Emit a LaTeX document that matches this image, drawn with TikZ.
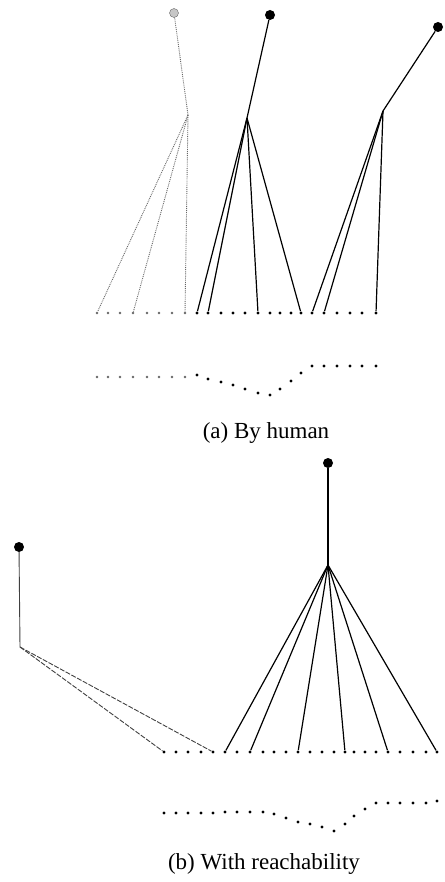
\documentclass[tikz,border=0pt]{standalone}
\usepackage{fontspec}
\setmainfont{Liberation Serif}
\usepackage{tikz}
\usetikzlibrary{calc}

\begin{document}
\begin{tikzpicture}[x=1pt, y=-1pt,
    leaf/.style={circle, fill=black, inner sep=0pt, minimum size=3.4pt},
    leafg/.style={circle, fill=black!60, inner sep=0pt, minimum size=2.6pt},
    root/.style={circle, fill=black, inner sep=0pt, minimum size=10pt},
    rootg/.style={circle, fill=gray!45, draw=black!60, inner sep=0pt, minimum size=9pt},
    edge/.style={black, line width=1.2pt},
    edgeg/.style={black!60, line width=0.9pt, densely dotted},
    edged/.style={black!75, line width=0.9pt, dash pattern=on 5pt off 1.5pt},
    caption/.style={font=\fontsize{23}{27}\selectfont}]
    \useasboundingbox (0,0) rectangle (444,882);

    % (a) leaves
    \foreach \x [count=\i from 0] in {97,108,120,133,147,159,172,185}
        \node[leafg] (a\i) at (\x,313) {};
    \foreach \x [count=\i from 8] in {197,208,221,233,245,258,270,280,291,301,312,324,337,350,362,376}
        \node[leaf] (a\i) at (\x,313) {};

    % (a) trees
    \node[rootg] (ra1) at (174,13) {};
    \coordinate (ia1) at (188,115);
    \draw[edgeg] (ra1) -- (ia1);
    \foreach \j in {0,3,7} \draw[edgeg] (ia1) -- (a\j);

    \node[root] (ra2) at (270,15) {};
    \coordinate (ia2) at (247,118);
    \draw[edge] (ra2) -- (ia2);
    \foreach \j in {8,9,13,17} \draw[edge] (ia2) -- (a\j);

    \node[root] (ra3) at (438,27) {};
    \coordinate (ia3) at (383,111);
    \draw[edge] (ra3) -- (ia3);
    \foreach \j in {18,19,23} \draw[edge] (ia3) -- (a\j);

    % (a) trajectory
    \foreach \x [count=\i from 0] in {97,108,120,133,147,159,172,185}
        \node[leafg] (ta\i) at (\x,377) {};
    \foreach \x/\y [count=\i from 8] in {197/375,208/379,221/382,233/385,245/389,258/393,270/395,280/389,
        291/381,301/373,312/366,324/366,337/366,350/366,362/366,376/366}
        \node[leaf] (ta\i) at (\x,\y) {};

    \node[caption] (capa) at (266,433) {(a) By human};

    % (b) leaves
    \foreach \x [count=\i from 0] in {164,176,188,201,213,225,237,250,263,274,286,298,310,322,334,345,354,365,376,388,400,413,426,437}
        \node[leaf] (b\i) at (\x,752) {};

    % (b) trees
    \node[root] (rb1) at (19,547) {};
    \coordinate (ib1) at (20,647);
    \draw[black!75, line width=0.9pt] (rb1) -- (ib1);
    \foreach \j in {0,4} \draw[edged] (ib1) -- (b\j);

    \node[root] (rb2) at (328,463) {};
    \coordinate (ib2) at (328,565);
    \draw[edge] (rb2) -- (ib2);
    \foreach \j in {5,7,11,15,19,23} \draw[edge] (ib2) -- (b\j);

    % (b) trajectory
    \foreach \x/\y [count=\i from 0] in {164/813,176/813,188/813,201/813,213/813,225/812,237/812,250/812,
        263/812,274/814,286/818,298/822,310/824,322/827,334/831,345/824,354/816,365/809,
        376/803,388/803,400/803,413/803,426/803,437/801}
        \node[leaf] (tb\i) at (\x,\y) {};

    \node[caption] (capb) at (264,864) {(b) With reachability};
\end{tikzpicture}
\end{document}
